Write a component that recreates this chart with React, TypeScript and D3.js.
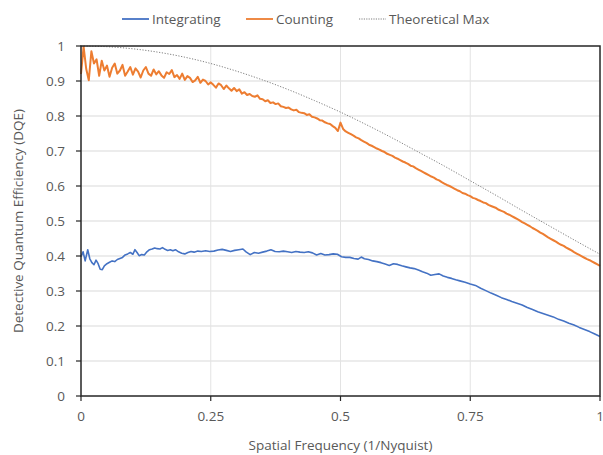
import { useMemo } from 'react';
import * as d3 from 'd3';

const MARGIN = { top: 46, right: 3, bottom: 59, left: 81 };
const width = 603,
  height = 455;

const FONT = "'Open Sans', 'Noto Sans', sans-serif";
const TEXT_COLOR = '#595959';

// y ticks and x ticks
const yTicks = [0, 0.1, 0.2, 0.3, 0.4, 0.5, 0.6, 0.7, 0.8, 0.9, 1];
const xTicks = [0, 0.25, 0.5, 0.75, 1];
const xTickLabels = ['0', '0.25', '0.5', '0.75', '1'];

// theoretical max, read at 0.05 steps
const theoryFreq = [
  0, 0.05, 0.1, 0.15, 0.2, 0.25, 0.3, 0.35, 0.4, 0.45, 0.5, 0.55, 0.6, 0.65, 0.7,
  0.75, 0.8, 0.85, 0.9, 0.95, 1,
];
const theoryDqe = [
  1, 0.998, 0.992, 0.982, 0.968, 0.95, 0.928, 0.903, 0.875, 0.844, 0.811, 0.775,
  0.737, 0.697, 0.657, 0.615, 0.573, 0.53, 0.488, 0.446, 0.405,
];

// counting detector, one value every 0.005
const countingStep = 0.005;
const countingDqe = [
  0.92, 0.998, 0.935, 0.902, 0.985, 0.95, 0.962, 0.915, 0.958, 0.93,
  0.944, 0.912, 0.938, 0.95, 0.921, 0.93, 0.946, 0.915, 0.927, 0.94,
  0.918, 0.936, 0.927, 0.91, 0.93, 0.94, 0.921, 0.915, 0.933, 0.919,
  0.928, 0.916, 0.909, 0.925, 0.92, 0.931, 0.911, 0.917, 0.906, 0.921,
  0.903, 0.914, 0.909, 0.897, 0.902, 0.912, 0.895, 0.904, 0.9, 0.89,
  0.896, 0.889, 0.881, 0.893, 0.888, 0.877, 0.887, 0.879, 0.872, 0.88,
  0.871, 0.876, 0.864, 0.868, 0.86, 0.863, 0.857, 0.855, 0.859, 0.849,
  0.848, 0.842, 0.845, 0.837, 0.839, 0.834, 0.836, 0.828, 0.826, 0.823,
  0.824, 0.819, 0.816, 0.818, 0.811, 0.809, 0.808, 0.803, 0.805, 0.798,
  0.796, 0.793, 0.788, 0.787, 0.782, 0.779, 0.777, 0.771, 0.766, 0.757,
  0.781, 0.763, 0.756, 0.752, 0.748, 0.744, 0.739, 0.736, 0.731, 0.727,
  0.723, 0.718, 0.715, 0.711, 0.707, 0.704, 0.7, 0.697, 0.692, 0.689,
  0.686, 0.681, 0.678, 0.674, 0.67, 0.667, 0.663, 0.658, 0.656, 0.651,
  0.647, 0.643, 0.639, 0.635, 0.631, 0.627, 0.624, 0.619, 0.616, 0.611,
  0.607, 0.603, 0.6, 0.596, 0.592, 0.588, 0.585, 0.58, 0.578, 0.574,
  0.571, 0.566, 0.564, 0.56, 0.557, 0.553, 0.551, 0.546, 0.543, 0.54,
  0.537, 0.532, 0.529, 0.526, 0.521, 0.518, 0.514, 0.51, 0.506, 0.502,
  0.497, 0.493, 0.489, 0.485, 0.48, 0.476, 0.472, 0.467, 0.463, 0.458,
  0.453, 0.449, 0.445, 0.441, 0.436, 0.432, 0.429, 0.424, 0.42, 0.416,
  0.411, 0.407, 0.403, 0.399, 0.395, 0.391, 0.388, 0.384, 0.38, 0.376, 0.372,
];

// integrating detector
const integratingFreq = [
  0, 0.004, 0.008, 0.013, 0.017, 0.021, 0.025, 0.029, 0.033, 0.037, 0.041, 0.045,
  0.05, 0.055, 0.06, 0.065, 0.07, 0.075, 0.08, 0.085, 0.09, 0.095, 0.1, 0.104,
  0.108, 0.112, 0.117, 0.122, 0.127, 0.132, 0.137, 0.142, 0.147, 0.152, 0.157,
  0.162, 0.167, 0.172, 0.177, 0.182, 0.188, 0.194, 0.2, 0.206, 0.212, 0.218,
  0.225, 0.232, 0.24, 0.248, 0.256, 0.264, 0.272, 0.28, 0.288, 0.296, 0.304,
  0.312, 0.318, 0.326, 0.334, 0.342, 0.35, 0.358, 0.366, 0.374, 0.382, 0.39,
  0.398, 0.406, 0.414, 0.422, 0.43, 0.438, 0.446, 0.454, 0.462, 0.47, 0.478,
  0.486, 0.494, 0.502, 0.51, 0.518, 0.526, 0.534, 0.54, 0.546, 0.554, 0.562,
  0.57, 0.578, 0.586, 0.594, 0.602, 0.61, 0.618, 0.626, 0.634, 0.642, 0.65,
  0.658, 0.666, 0.674, 0.682, 0.69, 0.698, 0.706, 0.714, 0.722, 0.73, 0.74,
  0.75, 0.76, 0.77, 0.78, 0.79, 0.8, 0.81, 0.82, 0.83, 0.84, 0.85, 0.86, 0.87,
  0.88, 0.89, 0.9, 0.91, 0.92, 0.93, 0.94, 0.95, 0.96, 0.97, 0.98, 0.99, 1.0,
];
const integratingDqe = [
  0.398, 0.412, 0.386, 0.418, 0.392, 0.381, 0.375, 0.388, 0.378, 0.362, 0.361, 0.372,
  0.378, 0.382, 0.386, 0.384, 0.39, 0.393, 0.396, 0.403, 0.406, 0.41, 0.405, 0.418,
  0.41, 0.401, 0.404, 0.403, 0.412, 0.418, 0.42, 0.423, 0.421, 0.42, 0.424,
  0.419, 0.416, 0.418, 0.415, 0.418, 0.412, 0.408, 0.406, 0.41, 0.413, 0.411,
  0.414, 0.413, 0.415, 0.413, 0.414, 0.417, 0.419, 0.416, 0.413, 0.416, 0.418,
  0.42, 0.412, 0.404, 0.41, 0.408, 0.411, 0.414, 0.418, 0.413, 0.412, 0.414,
  0.412, 0.41, 0.413, 0.411, 0.41, 0.412, 0.409, 0.403, 0.407, 0.403, 0.404,
  0.406, 0.405, 0.398, 0.396, 0.396, 0.393, 0.391, 0.397, 0.392, 0.39, 0.386,
  0.384, 0.381, 0.377, 0.373, 0.378, 0.376, 0.372, 0.369, 0.366, 0.364, 0.36,
  0.355, 0.351, 0.345, 0.347, 0.349, 0.343, 0.339, 0.336, 0.332, 0.329, 0.325,
  0.32, 0.316, 0.308, 0.301, 0.294, 0.288, 0.281, 0.276, 0.27, 0.265, 0.26, 0.253, 0.247,
  0.241, 0.236, 0.231, 0.226, 0.219, 0.214, 0.208, 0.203, 0.196, 0.19, 0.184, 0.177, 0.17,
];

const BLUE = '#4472C4';
const ORANGE = '#ED7D31';
const GREY = '#7f7f7f';

export default function App() {
  const boundsWidth = width - MARGIN.left - MARGIN.right;
  const boundsHeight = height - MARGIN.top - MARGIN.bottom;

  const xScale = useMemo(
    () => d3.scaleLinear().domain([0, 1]).range([0, boundsWidth]),
    [boundsWidth]
  );
  const yScale = useMemo(
    () => d3.scaleLinear().domain([0, 1]).range([boundsHeight, 0]),
    [boundsHeight]
  );

  const line = d3
    .line<[number, number]>()
    .x(d => xScale(d[0]))
    .y(d => yScale(d[1]));

  const theoryPath = line.curve(d3.curveMonotoneX)(
    theoryFreq.map((f, i) => [f, theoryDqe[i]])
  );
  const countingPath = line.curve(d3.curveLinear)(
    countingDqe.map((v, i) => [i * countingStep, v])
  );
  const integratingPath = line.curve(d3.curveLinear)(
    integratingFreq.map((f, i) => [f, integratingDqe[i]])
  );

  const legend = [
    { name: 'Integrating', color: BLUE, x: 122, dash: undefined, w: 1.8 },
    { name: 'Counting', color: ORANGE, x: 246, dash: undefined, w: 1.8 },
    { name: 'Theoretical Max', color: GREY, x: 359, dash: '1.2 1.2', w: 1 },
  ];

  return (
    <svg
      width={width}
      height={height}
      style={{ position: 'absolute', left: 0, top: 0, background: '#fff' }}
    >
      {/* legend */}
      {legend.map(l => (
        <g key={l.name}>
          <line
            x1={l.x}
            x2={l.x + 27}
            y1={19}
            y2={19}
            stroke={l.color}
            strokeWidth={l.w}
            strokeDasharray={l.dash}
          />
          <text
            x={l.x + 30}
            y={19}
            dominantBaseline="central"
            fontSize={13.5}
            fontFamily={FONT}
            fill={TEXT_COLOR}
          >
            {l.name}
          </text>
        </g>
      ))}

      <g transform={`translate(${[MARGIN.left, MARGIN.top].join(',')})`}>
        {/* gridlines */}
        {yTicks.slice(1, -1).map(t => (
          <line
            key={'gy' + t}
            x1={0}
            x2={boundsWidth}
            y1={yScale(t)}
            y2={yScale(t)}
            stroke="#d9d9d9"
            strokeWidth={1}
          />
        ))}
        {xTicks.slice(1, -1).map(t => (
          <line
            key={'gx' + t}
            x1={xScale(t)}
            x2={xScale(t)}
            y1={0}
            y2={boundsHeight}
            stroke="#e3e3e3"
            strokeWidth={1}
          />
        ))}

        {/* series */}
        <path d={theoryPath ?? ''} fill="none" stroke={GREY} strokeWidth={1} strokeDasharray="1.2 1.6" />
        <path d={countingPath ?? ''} fill="none" stroke={ORANGE} strokeWidth={2} strokeLinejoin="round" />
        <path d={integratingPath ?? ''} fill="none" stroke={BLUE} strokeWidth={1.6} strokeLinejoin="round" />

        {/* frame */}
        <rect
          x={0}
          y={0}
          width={boundsWidth}
          height={boundsHeight}
          fill="none"
          stroke="#262626"
          strokeWidth={1.5}
        />

        {/* y ticks */}
        {yTicks.map(t => (
          <g key={'y' + t}>
            <line x1={-5} x2={0} y1={yScale(t)} y2={yScale(t)} stroke="#262626" strokeWidth={1.2} />
            <text
              x={-16}
              y={yScale(t)}
              textAnchor="end"
              dominantBaseline="central"
              fontSize={13.5}
              fontFamily={FONT}
              fill={TEXT_COLOR}
            >
              {t}
            </text>
          </g>
        ))}

        {/* x ticks */}
        {xTicks.map((t, i) => (
          <g key={'x' + t}>
            <line x1={xScale(t)} x2={xScale(t)} y1={boundsHeight} y2={boundsHeight + 5} stroke="#262626" strokeWidth={1.2} />
            <text
              x={xScale(t)}
              y={boundsHeight + 20}
              textAnchor="middle"
              dominantBaseline="central"
              fontSize={13.5}
              fontFamily={FONT}
              fill={TEXT_COLOR}
            >
              {xTickLabels[i]}
            </text>
          </g>
        ))}

        {/* axis titles */}
        <text
          x={boundsWidth / 2}
          y={boundsHeight + 49}
          textAnchor="middle"
          dominantBaseline="central"
          fontSize={13.5}
          fontFamily={FONT}
          fill={TEXT_COLOR}
        >
          Spatial Frequency (1/Nyquist)
        </text>
        <text
          transform={`translate(${-63},${boundsHeight / 2}) rotate(-90)`}
          textAnchor="middle"
          dominantBaseline="central"
          fontSize={13.5}
          fontFamily={FONT}
          fill={TEXT_COLOR}
        >
          Detective Quantum Efficiency (DQE)
        </text>
      </g>
    </svg>
  );
}
